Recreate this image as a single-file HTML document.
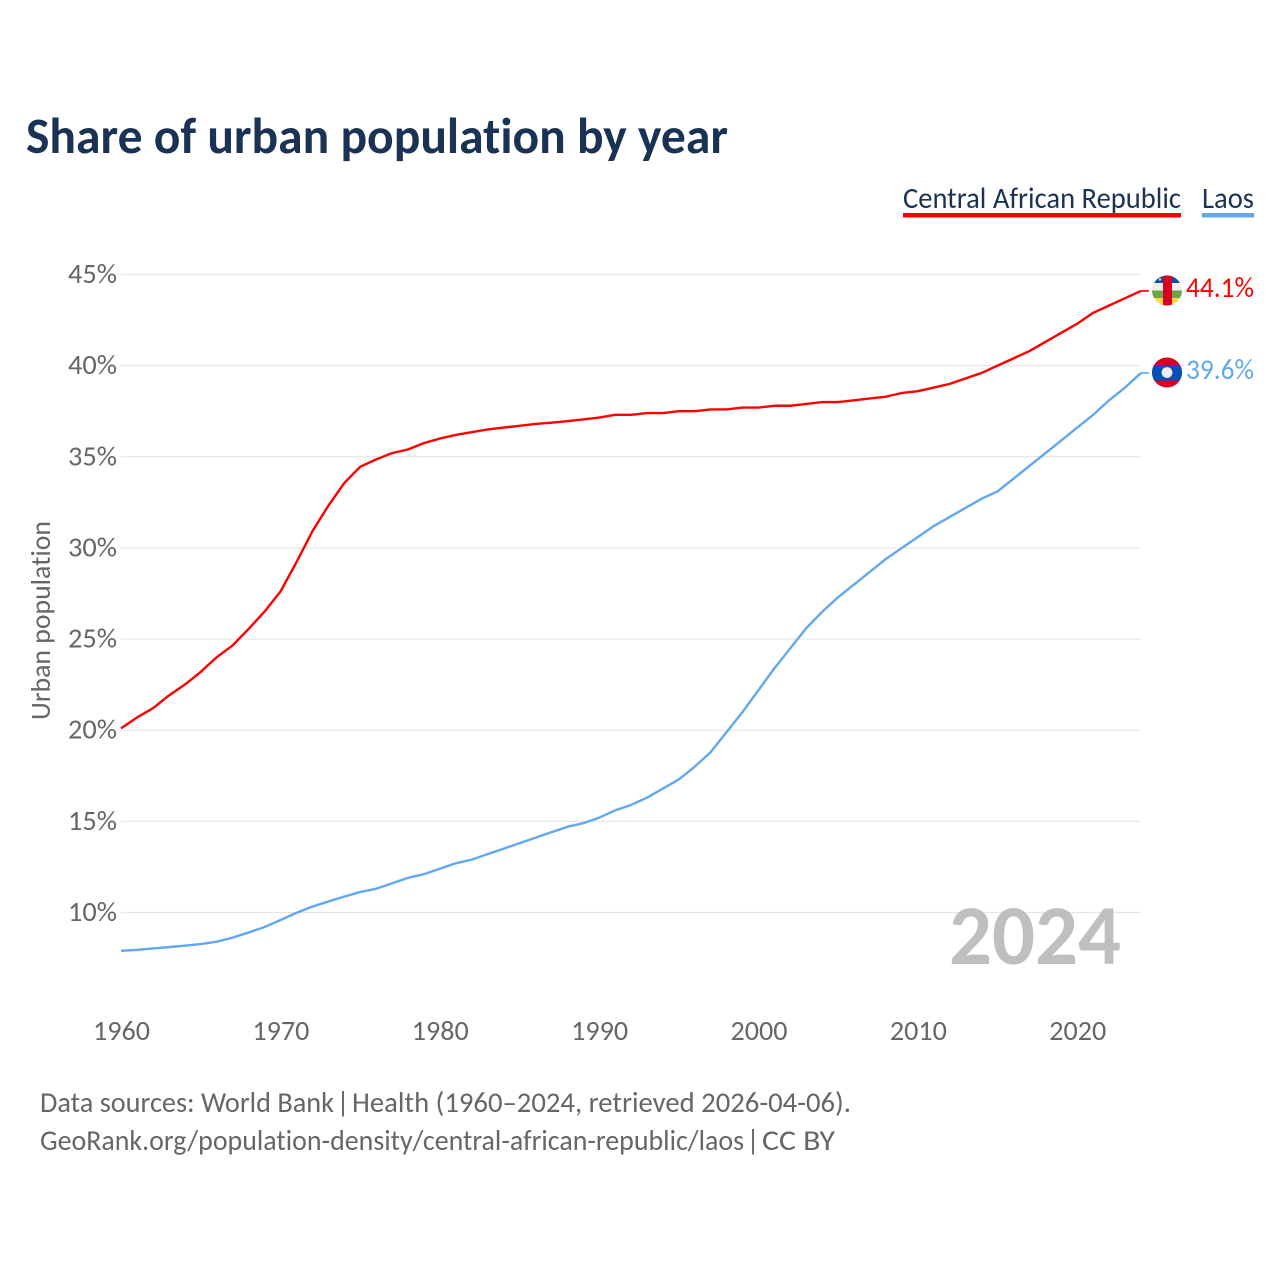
<!DOCTYPE html>
<html lang="en">
<head>
<meta charset="utf-8">
<title>Share of urban population by year</title>
<style>
html,body{margin:0;padding:0;background:#fff;}
svg{display:block;font-family:"Carlito","Lato","Liberation Sans",sans-serif;font-variant-ligatures:none;}
</style>
</head>
<body>
<svg id="chart" xmlns="http://www.w3.org/2000/svg" width="1280" height="1280" viewBox="0 0 1280 1280">
  <rect width="1280" height="1280" fill="#fff"/>
  <text x="26" y="153" font-size="51" font-weight="700" fill="#1a3354" textLength="702" lengthAdjust="spacingAndGlyphs">Share of urban population by year</text>

  <g>
    <g>
      <text x="903" y="208" font-size="30" fill="#1a3354" textLength="278" lengthAdjust="spacingAndGlyphs">Central African Republic</text>
      <rect x="903" y="213" width="278" height="4.5" fill="#ff0000"/>
    </g>
    <g>
      <text x="1202" y="208" font-size="30" fill="#1a3354" textLength="52" lengthAdjust="spacingAndGlyphs">Laos</text>
      <rect x="1202" y="213" width="52" height="4.5" fill="#62a8ee"/>
    </g>
  </g>

  <g id="grid"></g>
  <g id="yticks"></g>
  <g id="xticks"></g>

  <text transform="translate(50,720) rotate(-90)" font-size="28" fill="#666" textLength="199" lengthAdjust="spacingAndGlyphs">Urban population</text>

  <text x="949" y="964" font-size="85" font-weight="700" fill="#bfbfbf" textLength="172" lengthAdjust="spacingAndGlyphs">2024</text>

  <g id="series"></g>

  <defs>
    <clipPath id="clip-car"><circle cx="1167" cy="290.5" r="15"/></clipPath>
    <clipPath id="clip-laos"><circle cx="1167" cy="372.5" r="15"/></clipPath>
  </defs>
  <g clip-path="url(#clip-car)">
    <rect x="1152" y="275" width="30" height="8" fill="#0f4fa8"/>
    <rect x="1152" y="283" width="30" height="7.5" fill="#eeeeee"/>
    <rect x="1152" y="290.5" width="30" height="7.5" fill="#6da544"/>
    <rect x="1152" y="298" width="30" height="8" fill="#ffda44"/>
    <rect x="1163" y="275" width="9" height="31" fill="#d80027"/>
    <circle cx="1160" cy="279.5" r="1.2" fill="#ffda44"/>
  </g>
  <g clip-path="url(#clip-laos)">
    <rect x="1152" y="357" width="30" height="31" fill="#d80027"/>
    <rect x="1152" y="365" width="30" height="15.5" fill="#0052b4"/>
    <circle cx="1167" cy="372.5" r="5.4" fill="#eeeeee"/>
  </g>
  <text x="1186" y="297" font-size="29" fill="#ff0000" textLength="68" lengthAdjust="spacingAndGlyphs">44.1%</text>
  <text x="1186" y="379" font-size="29" fill="#62a8ee" textLength="68" lengthAdjust="spacingAndGlyphs">39.6%</text>

  <g font-size="29" fill="#666">
    <text x="40" y="1112" textLength="294" lengthAdjust="spacingAndGlyphs">Data sources: World Bank</text>
    <text x="343" y="1112" text-anchor="middle">|</text>
    <text x="352" y="1112" textLength="499" lengthAdjust="spacingAndGlyphs">Health (1960–2024, retrieved 2026-04-06).</text>
  </g>
  <g font-size="29" fill="#666">
    <text x="40" y="1150" textLength="704" lengthAdjust="spacingAndGlyphs">GeoRank.org/population-density/central-african-republic/laos</text>
    <text x="753" y="1150" text-anchor="middle">|</text>
    <text x="762" y="1150" textLength="73" lengthAdjust="spacingAndGlyphs">CC BY</text>
  </g>
</svg>
<script>
const years = [1960,1961,1962,1963,1964,1965,1966,1967,1968,1969,1970,1971,1972,1973,1974,1975,1976,1977,1978,1979,1980,1981,1982,1983,1984,1985,1986,1987,1988,1989,1990,1991,1992,1993,1994,1995,1996,1997,1998,1999,2000,2001,2002,2003,2004,2005,2006,2007,2008,2009,2010,2011,2012,2013,2014,2015,2016,2017,2018,2019,2020,2021,2022,2023,2024];
const carValues = [20.1,20.7,21.2,21.9,22.5,23.2,24.0,24.65,25.55,26.5,27.6,29.2,30.9,32.3,33.55,34.45,34.85,35.2,35.4,35.75,36.0,36.2,36.35,36.5,36.6,36.7,36.8,36.87,36.95,37.05,37.15,37.3,37.3,37.4,37.4,37.5,37.5,37.6,37.6,37.7,37.7,37.8,37.8,37.9,38.0,38.0,38.1,38.2,38.3,38.5,38.6,38.8,39.0,39.3,39.6,40.0,40.4,40.8,41.3,41.8,42.3,42.9,43.3,43.7,44.1];
const laosValues = [7.9,7.95,8.03,8.1,8.18,8.27,8.4,8.62,8.9,9.2,9.58,9.98,10.32,10.6,10.87,11.12,11.3,11.6,11.9,12.1,12.4,12.7,12.9,13.2,13.5,13.8,14.1,14.4,14.7,14.9,15.2,15.6,15.9,16.3,16.8,17.3,18.0,18.8,19.9,21.0,22.2,23.4,24.5,25.6,26.5,27.3,28.0,28.7,29.4,30.0,30.6,31.2,31.7,32.2,32.7,33.1,33.8,34.5,35.2,35.9,36.6,37.3,38.1,38.8,39.6];
const yTickValues = [10,15,20,25,30,35,40,45];
const xTickValues = [1960,1970,1980,1990,2000,2010,2020];

const NS = 'http://www.w3.org/2000/svg';
function xScale(year){ return 121 + (year - 1960) * (1141 - 121) / 64; }
function yScale(value){ return 912.5 - (value - 10) * (912.5 - 274.5) / 35; }
function make(tag, parent, attrs){
  const el = document.createElementNS(NS, tag);
  for (const k in attrs) el.setAttribute(k, attrs[k]);
  parent.appendChild(el);
  return el;
}
const grid = document.getElementById('grid');
const yticks = document.getElementById('yticks');
const xticks = document.getElementById('xticks');
const series = document.getElementById('series');

yTickValues.forEach(function(v){
  const line = make('line', grid, {x1:121, x2:1141, y1:yScale(v), y2:yScale(v), stroke:'#e6e6e6', 'stroke-width':1.2});
  
  
  const t = make('text', yticks, {x:117, y:yScale(v) + 8.5, 'font-size':28, fill:'#666', 'text-anchor':'end', textLength:49, lengthAdjust:'spacingAndGlyphs'});
  t.textContent = v + '%';
  
  
});
xTickValues.forEach(function(y){
  const t = make('text', xticks, {x:xScale(y) + 0.5, y:1040, 'font-size':28, fill:'#666', 'text-anchor':'middle', textLength:57, lengthAdjust:'spacingAndGlyphs'});
  t.textContent = y;
  
  
});
function drawSeries(values, color, name){
  const pts = values.map(function(v, i){ return xScale(years[i]).toFixed(2) + ',' + yScale(v).toFixed(2); });
  const lastY = yScale(values[values.length - 1]).toFixed(2);
  const path = make('polyline', series, {points:pts.join(' '), fill:'none', stroke:color, 'stroke-width':2.4, 'stroke-linejoin':'round'});
  
  
  const lead = make('line', series, {x1:xScale(years[years.length - 1]), x2:1149, y1:lastY, y2:lastY, stroke:color, 'stroke-width':1.6});
  
  
}
drawSeries(carValues, '#ff0000', 'central-african-republic');
drawSeries(laosValues, '#62a8ee', 'laos');
</script>
</body>
</html>
